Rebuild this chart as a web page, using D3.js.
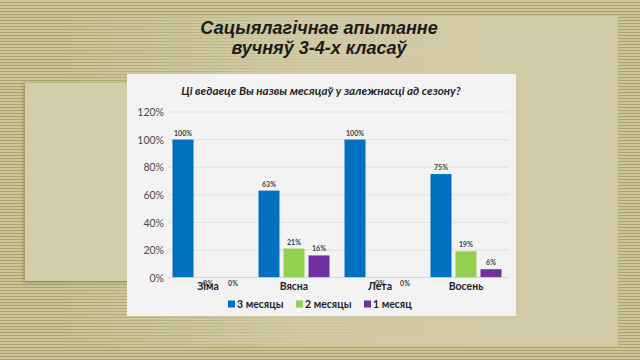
<!DOCTYPE html>
<html><head><meta charset="utf-8">
<script src="https://cdn.jsdelivr.net/npm/d3@7"></script>
<style>html,body{margin:0;padding:0;background:#c4be8d;}svg{display:block;}</style>
</head><body>
<script>
const categories = ["Зіма", "Вясна", "Лета", "Восень"];
const seriesNames = ["3 месяцы", "2 месяцы", "1 месяц"];
const months3 = [100, 63, 100, 75];
const months2 = [0, 21, 0, 19];
const months1 = [0, 16, 0, 6];
const yTicks = [0, 20, 40, 60, 80, 100, 120];
const colors = ["#0070C0", "#92D050", "#7030A0"];
const slideTitle = ["Сацыялагічнае апытанне", "вучняў 3-4-х класаў"];
const chartTitle = "Ці ведаеце Вы назвы месяцаў у залежнасці ад сезону?";

const series = [months3, months2, months1];
const W = 640, H = 360;
const svg = d3.select("body").append("svg").attr("width", W).attr("height", H);
const defs = svg.append("defs");

// striped background
const pat = defs.append("pattern").attr("id", "stripes").attr("patternUnits", "userSpaceOnUse")
  .attr("width", 8).attr("height", 3);
pat.append("rect").attr("width", 8).attr("height", 3).attr("fill", "#cbc597");
pat.append("rect").attr("y", 2).attr("width", 8).attr("height", 1).attr("fill", "#a9a36b");
svg.append("rect").attr("width", W).attr("height", H).attr("fill", "url(#stripes)");

// main beige panel with faded left edge
const grad = defs.append("linearGradient").attr("id", "panelGrad").attr("x1", 0).attr("x2", 1).attr("y1", 0).attr("y2", 0);
grad.append("stop").attr("offset", "0").attr("stop-color", "#d2cba7").attr("stop-opacity", 0);
grad.append("stop").attr("offset", "0.45").attr("stop-color", "#d2cba7").attr("stop-opacity", 0.85);
grad.append("stop").attr("offset", "1").attr("stop-color", "#d2cba7").attr("stop-opacity", 1);
svg.append("rect").attr("x", 60).attr("y", 16).attr("width", 559).attr("height", 329).attr("fill", "url(#panelGrad)");
// right edge shadow
svg.append("rect").attr("x", 617).attr("y", 16).attr("width", 2).attr("height", 329).attr("fill", "#bdb690").attr("opacity", 0.6);

// left lighter rectangle with shadow
const sh = defs.append("filter").attr("id", "shadow").attr("x", "-10%").attr("y", "-10%").attr("width", "130%").attr("height", "130%");
sh.append("feDropShadow").attr("dx", -1).attr("dy", 1).attr("stdDeviation", 2).attr("flood-color", "#5c5630").attr("flood-opacity", 0.5);
svg.append("rect").attr("x", 25).attr("y", 83).attr("width", 140).attr("height", 198).attr("fill", "#d3cdab").attr("filter", "url(#shadow)");

// slide title
const tt = svg.append("text").attr("text-anchor", "middle")
  .attr("font-family", "'Liberation Sans Narrow','Arial Narrow','Liberation Sans',sans-serif")
  .attr("font-weight", "bold").attr("font-style", "italic").attr("font-size", 18).attr("fill", "#1b1b1b");
slideTitle.forEach((t, i) => tt.append("tspan").attr("x", 319).attr("y", 34 + i * 20).text(t));

// chart box
svg.append("rect").attr("x", 127).attr("y", 74).attr("width", 389).attr("height", 242).attr("fill", "#f3f3f4");

svg.append("text").attr("x", 321).attr("y", 95).attr("text-anchor", "middle")
  .attr("font-family", "Lato, 'Open Sans', sans-serif").attr("font-weight", "bold").attr("font-style", "italic")
  .attr("font-size", 11.6).attr("fill", "#262626").text(chartTitle);

const x0 = d3.scaleBand().domain(categories).range([165, 509]).paddingInner(0).paddingOuter(0);
const x1 = d3.scaleBand().domain(seriesNames).range([7.5, 78.5]).paddingInner(0.16).paddingOuter(0);
const y = d3.scaleLinear().domain([0, 120]).range([277.5, 112]);

// gridlines
svg.append("g").selectAll("line").data(yTicks).join("line")
  .attr("x1", 168).attr("x2", 509).attr("y1", d => y(d)).attr("y2", d => y(d))
  .attr("stroke", "#dcdcdc").attr("stroke-width", 0.8);

// y axis
const yAxis = d3.axisLeft(y).tickValues(yTicks).tickFormat(d => d + "%").tickSize(0).tickPadding(0);
const yg = svg.append("g").attr("transform", "translate(164,0)").call(yAxis);
yg.select(".domain").remove();
yg.selectAll("text").attr("font-family", "Lato, sans-serif").attr("font-size", 10.5).attr("fill", "#4a4a4a").attr("dy", "0.35em");

// bars
const groups = svg.append("g").selectAll("g").data(categories).join("g")
  .attr("transform", d => `translate(${x0(d)},0)`);
groups.each(function(cat, ci) {
  const g = d3.select(this);
  seriesNames.forEach((s, si) => {
    const v = series[si][ci];
    g.append("rect").attr("x", x1(s)).attr("width", x1.bandwidth())
      .attr("y", y(v)).attr("height", y(0) - y(v)).attr("fill", colors[si]);
    g.append("text").attr("x", x1(s) + x1.bandwidth() / 2).attr("y", v === 0 ? y(v) + 8 : y(v) - 4)
      .attr("text-anchor", "middle").attr("font-family", "Lato, sans-serif").attr("font-weight", "bold")
      .attr("font-size", 7).attr("fill", "#404040").text(v + "%");
  });
});

// baseline
svg.append("line").attr("x1", 168).attr("x2", 509).attr("y1", y(0)).attr("y2", y(0)).attr("stroke", "#d0d0d0").attr("stroke-width", 0.8);

// category axis
const xAxis = d3.axisBottom(x0).tickSize(0).tickPadding(0);
const xg = svg.append("g").attr("transform", `translate(0,${y(0) + 4})`).call(xAxis);
xg.select(".domain").remove();
xg.selectAll("text").attr("font-family", "Lato, sans-serif").attr("font-weight", "bold").attr("font-size", 10.5)
  .attr("fill", "#1e1e1e").attr("dy", "0.85em");

// legend
const legendX = [228, 296, 364];
const lg = svg.append("g").selectAll("g").data(seriesNames).join("g")
  .attr("transform", (d, i) => `translate(${legendX[i]},304)`);
lg.append("rect").attr("x", 0).attr("y", -3.5).attr("width", 7).attr("height", 7).attr("fill", (d, i) => colors[i]);
lg.append("text").attr("x", 9).attr("y", 0).attr("dy", "0.36em").attr("font-family", "Lato, sans-serif")
  .attr("font-weight", "bold").attr("font-size", 10.5).attr("fill", "#1e1e1e").text(d => d);
</script>
</body></html>
